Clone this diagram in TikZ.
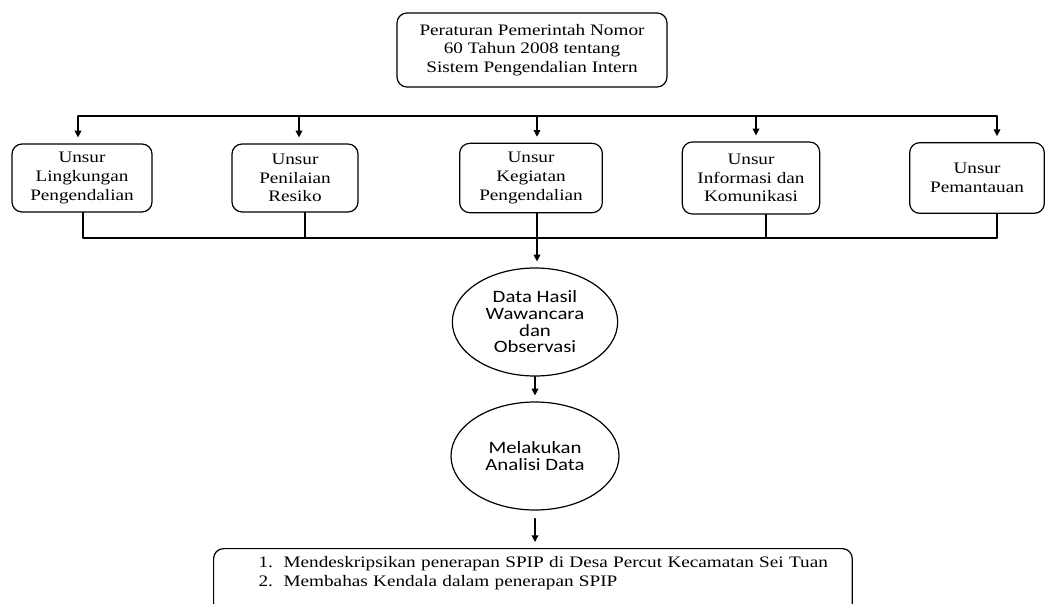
\documentclass[tikz,border=0pt]{standalone}
\usepackage{fontspec}
\setmainfont[FakeStretch=1.2]{Liberation Serif}
\setsansfont[FakeStretch=1.2]{Carlito}
\usetikzlibrary{arrows.meta,shapes.geometric}
\begin{document}
\begin{tikzpicture}[x=0.75pt, y=-0.75pt, line join=round, line cap=round, >={Triangle[length=5pt,width=5pt]},
	kotak/.style={draw, line width=0.9pt, rounded corners=7.5pt, align=center, font=\fontsize{12}{14}\selectfont, inner sep=2pt},
	elips/.style={draw, ellipse, line width=0.9pt, align=center, font=\fontsize{13}{12.5}\sffamily, inner sep=0pt},
	garis/.style={line width=0.9pt},
	panah/.style={->, line width=0.9pt, shorten >=4.5pt}]
	\useasboundingbox (0,0) rectangle (1058,604);
	% dasar hukum
	\node[kotak, minimum width=202.5pt, minimum height=55.5pt] (pp) at (532,50) {Peraturan Pemerintah Nomor\\60 Tahun 2008 tentang\\Sistem Pengendalian Intern};
	% unsur SPIP
	\node[kotak, minimum width=105pt, minimum height=51pt] (b1) at (82,178) {Unsur\\Lingkungan\\Pengendalian};
	\node[kotak, minimum width=94.5pt, minimum height=51pt] (b2) at (295,178) {Unsur\\Penilaian\\Resiko};
	\node[kotak, minimum width=107pt, minimum height=52pt] (b3) at (531,178) {Unsur\\Kegiatan\\Pengendalian};
	\node[kotak, minimum width=103pt, minimum height=54pt] (b4) at (751,178) {Unsur\\Informasi dan\\Komunikasi};
	\node[kotak, minimum width=101pt, minimum height=53pt] (b5) at (977,178) {Unsur\\Pemantauan};
	% titik cabang
	\coordinate (t1) at (78,116);
	\coordinate (t2) at (299,116);
	\coordinate (t3) at (537,116);
	\coordinate (t4) at (756,116);
	\coordinate (t5) at (997,116);
	\coordinate (u1) at (83,238);
	\coordinate (u2) at (305,238);
	\coordinate (u3) at (537,238);
	\coordinate (u4) at (766,238);
	\coordinate (u5) at (997,238);
	\draw[garis] (t1) -- (t5);
	\draw[garis] (u1) -- (u5);
	\foreach \i in {1,...,5}{
		\draw[panah] (t\i) -- (t\i |- b\i.north);
		\draw[garis] (b\i.south -| u\i) -- (u\i);
	}
	% analisis
	\node[elips, minimum width=124pt, minimum height=81pt] (e1) at (535,322) {Data Hasil\\Wawancara\\dan\\Observasi};
	\node[elips, minimum width=126pt, minimum height=81pt] (e2) at (535,456) {Melakukan\\Analisi Data};
	\node[kotak, anchor=north west, align=left, text width=475pt, inner xsep=2pt, inner ysep=6pt] (res) at (213,548)
		{\hspace*{31.75pt}\makebox[18.75pt][l]{1.}Mendeskripsikan penerapan SPIP di Desa Percut Kecamatan Sei Tuan\\
		\hspace*{31.75pt}\makebox[18.75pt][l]{2.}Membahas Kendala dalam penerapan SPIP\\ \mbox{}};
	\draw[panah] (u3) -- (u3 |- e1.north);
	\draw[panah] (e1.south) -- (e2.north);
	\draw[panah, shorten <=6pt] (e2.south) -- (e2.south |- res.north);
\end{tikzpicture}
\end{document}
